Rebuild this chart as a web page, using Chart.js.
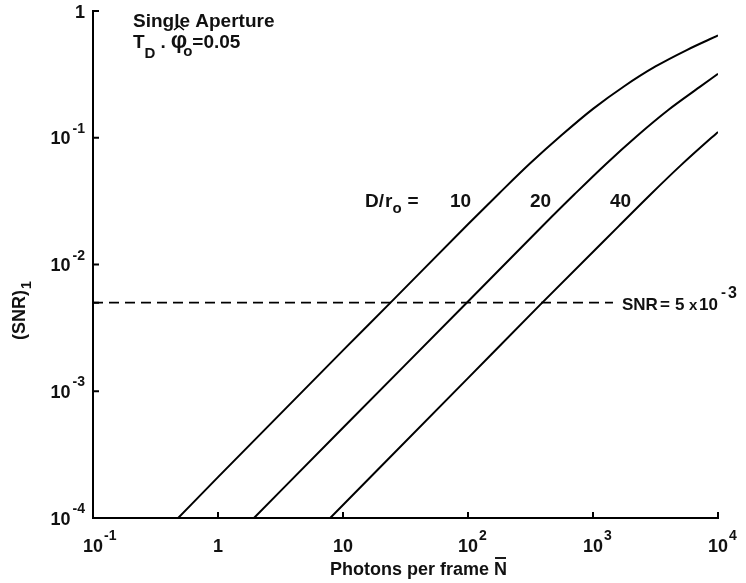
<!DOCTYPE html>
<html><head><meta charset="utf-8">
<script src="https://cdn.jsdelivr.net/npm/chart.js@4.4.1/dist/chart.umd.min.js"></script>
<style>html,body{margin:0;padding:0;background:#fff}canvas{display:block}</style>
</head><body>
<canvas id="c" width="746" height="583"></canvas>
<script>
// ---- data (log-log) ----
const photons10 = [0.48, 1, 10, 24, 100, 178, 316, 562, 1000, 1778, 3162, 5623, 10000];
const snr10     = [1.0e-4, 2.1e-4, 2.1e-3, 5.0e-3, 0.0208, 0.0365, 0.0631, 0.105, 0.169, 0.255, 0.365, 0.492, 0.641];
const photons20 = [1.94, 10, 100, 400, 711, 1265, 2250, 4000, 7110, 10000];
const snr20     = [1.0e-4, 5.15e-4, 5.1e-3, 0.0204, 0.0358, 0.0619, 0.1033, 0.1656, 0.2506, 0.32];
const photons40 = [7.9, 100, 377, 1600, 2844, 5060, 9000, 10000];
const snr40     = [1.0e-4, 1.27e-3, 4.8e-3, 0.020, 0.0352, 0.0608, 0.1014, 0.111];
const thresholdN   = [0.1, 1445];
const thresholdSNR = [5e-3, 5e-3];
const curveNames = ['10', '20', '40'];

const xTickValues = [0.1, 1, 10, 100, 1000, 10000];
const xTickBase   = ['10', '1', '10', '10', '10', '10'];
const xTickSup    = ['-1', '', '', '2', '3', '4'];
const yTickValues = [1, 0.1, 0.01, 0.001, 0.0001];
const yTickBase   = ['1', '10', '10', '10', '10'];
const yTickSup    = ['', '-1', '-2', '-3', '-4'];
const yExtraTickMarks = [5e-3];

const pts = (xs, ys) => xs.map((x, i) => ({x, y: ys[i]}));
const FONT = '"Liberation Sans", Arial, Helvetica, sans-serif';
const f = (sz, w) => `${w || 'bold'} ${sz}px ${FONT}`;

function put(ctx, t, x, y, sz) { ctx.font = f(sz); ctx.fillText(t, x, y); return x + ctx.measureText(t).width; }

const overlay = {
  id: 'overlay',
  beforeDraw(chart) {
    const ctx = chart.ctx;
    ctx.save(); ctx.fillStyle = '#fff'; ctx.fillRect(0, 0, chart.width, chart.height); ctx.restore();
  },
  afterDraw(chart) {
    const ctx = chart.ctx;
    const xs = chart.scales.x, ys = chart.scales.y;
    const a = chart.chartArea;
    ctx.save();
    ctx.strokeStyle = '#000'; ctx.fillStyle = '#111'; ctx.lineWidth = 2;
    // inward tick marks
    ctx.beginPath();
    xTickValues.forEach(v => { const p = xs.getPixelForValue(v); ctx.moveTo(p, a.bottom); ctx.lineTo(p, a.bottom - 6); });
    yTickValues.concat(yExtraTickMarks).forEach(v => { const p = ys.getPixelForValue(v); ctx.moveTo(a.left, p); ctx.lineTo(a.left + 6, p); });
    ctx.stroke();
    ctx.textBaseline = 'alphabetic'; ctx.textAlign = 'left';
    // x tick labels
    xTickValues.forEach((v, i) => {
      const p = xs.getPixelForValue(v);
      ctx.font = f(18);
      const w = ctx.measureText(xTickBase[i]).width;
      ctx.fillText(xTickBase[i], p - w / 2, a.bottom + 34);
      if (xTickSup[i]) put(ctx, xTickSup[i], p + w / 2 + 1, a.bottom + 22, 14);
    });
    // y tick labels
    yTickValues.forEach((v, i) => {
      const p = ys.getPixelForValue(v);
      const right = a.left - 8;
      ctx.font = f(14);
      const sw = yTickSup[i] ? ctx.measureText(yTickSup[i]).width + 2 : 0;
      if (yTickSup[i]) ctx.fillText(yTickSup[i], right - sw + 2, p - 5);
      ctx.font = f(18);
      const bw = ctx.measureText(yTickBase[i]).width;
      ctx.fillText(yTickBase[i], right - sw - bw, p + 6.5);
    });
    // x axis title
    const tx = a.left + 237, ty = a.bottom + 57;
    const nx = put(ctx, 'Photons per frame ', tx, ty, 18);
    const ne = put(ctx, 'N', nx, ty, 18);
    ctx.lineWidth = 1.8; ctx.beginPath(); ctx.moveTo(nx + 1, ty - 17); ctx.lineTo(ne - 1, ty - 17); ctx.stroke();
    // y axis title
    ctx.save();
    ctx.translate(a.left - 68, a.top + 329);
    ctx.rotate(-Math.PI / 2);
    const se = put(ctx, '(SNR)', 0, 0, 18);
    put(ctx, '1', se + 1, 6, 14);
    ctx.restore();

    // title block
    const L = a.left + 40, b1 = a.top + 16, b2 = a.top + 37;
    put(ctx, 'Single Aperture', L, b1, 19);
    let cx = put(ctx, 'T', L, b2, 19);
    cx = put(ctx, 'D', cx, b2 + 10, 15);
    cx = put(ctx, '.', cx + 5, b2, 19);
    const phx = cx + 5;
    cx = put(ctx, 'φ', phx, b2, 23);
    const phc = (phx + cx) / 2;
    ctx.lineWidth = 1.6; ctx.beginPath();
    ctx.moveTo(phc - 5, b2 - 18); ctx.lineTo(phc, b2 - 22); ctx.lineTo(phc + 5, b2 - 18); ctx.stroke();
    cx = put(ctx, 'o', cx - 4, b2 + 8, 15);
    put(ctx, '=0.05', cx, b2, 19);

    // D/r_o labels
    const ly = ys.getPixelForValue(0.0285);
    cx = put(ctx, 'D', a.left + 272, ly, 19);
    cx = put(ctx, '/', cx, ly, 19);
    cx = put(ctx, 'r', cx + 1, ly, 19);
    cx = put(ctx, 'o', cx, ly + 6, 15);
    put(ctx, '=', cx + 6, ly, 19);
    const labelX = [a.left + 357, a.left + 437, a.left + 517];
    curveNames.forEach((n, i) => put(ctx, n, labelX[i], ly, 19));

    // threshold label
    const sy = ys.getPixelForValue(thresholdSNR[0]) + 7;
    const s0 = xs.getPixelForValue(thresholdN[1]) + 9;
    put(ctx, 'SNR', s0, sy, 17);
    put(ctx, '=', s0 + 38, sy, 17);
    put(ctx, '5', s0 + 53, sy, 17);
    put(ctx, 'x', s0 + 67, sy, 15);
    put(ctx, '10', s0 + 77, sy, 17);
    put(ctx, '-', s0 + 99, sy - 13, 15);
    put(ctx, '3', s0 + 106, sy - 12, 16);
    ctx.restore();
  }
};

const lineStyle = {borderColor: '#000', borderWidth: 2, pointRadius: 0, fill: false, cubicInterpolationMode: 'monotone'};

new Chart(document.getElementById('c'), {
  type: 'line',
  data: {
    datasets: [
      Object.assign({label: 'D/r0 = ' + curveNames[0], data: pts(photons10, snr10)}, lineStyle),
      Object.assign({label: 'D/r0 = ' + curveNames[1], data: pts(photons20, snr20)}, lineStyle),
      Object.assign({label: 'D/r0 = ' + curveNames[2], data: pts(photons40, snr40)}, lineStyle),
      {label: 'SNR = 5x10^-3', data: pts(thresholdN, thresholdSNR), borderColor: '#000', borderWidth: 1.8, borderDash: [10, 6], pointRadius: 0, fill: false}
    ]
  },
  options: {
    responsive: false, animation: false, devicePixelRatio: 1,
    layout: {padding: {left: 93, top: 11, right: 28, bottom: 65}},
    plugins: {legend: {display: false}, tooltip: {enabled: false}},
    scales: {
      x: {type: 'logarithmic', min: 0.1, max: 10000,
          ticks: {display: false}, grid: {display: false, drawTicks: false},
          border: {display: true, color: '#000', width: 2}},
      y: {type: 'logarithmic', min: 1e-4, max: 1,
          ticks: {display: false}, grid: {display: false, drawTicks: false},
          border: {display: true, color: '#000', width: 2}}
    }
  },
  plugins: [overlay]
});
</script>
</body></html>
